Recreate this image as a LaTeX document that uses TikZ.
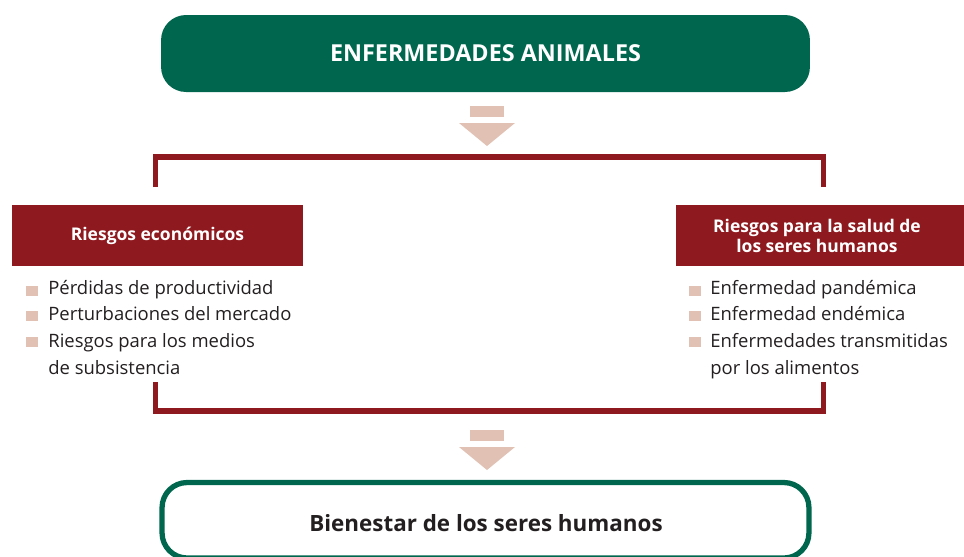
\documentclass[tikz,border=0pt]{standalone}
\usepackage{fontspec}
\setmainfont{Open Sans}
\usetikzlibrary{positioning}

\definecolor{faogreen}{RGB}{0,103,78}
\definecolor{faored}{RGB}{142,25,31}
\definecolor{faopink}{RGB}{225,193,180}
\definecolor{faotext}{RGB}{35,31,32}

\begin{document}
\begin{tikzpicture}[x=0.02cm, y=-0.02cm,
    greenbox/.style={rectangle, rounded corners=0.5cm, minimum width=12.98cm, minimum height=1.54cm},
    redbox/.style={rectangle, fill=faored, text=white, font=\fontsize{9.95}{11.6}\selectfont\bfseries, align=center},
    item/.style={text=faotext, font=\fontsize{10.5}{12}\selectfont, inner sep=0pt},
    bracket/.style={draw=faored, line width=3pt},
    blockarrow/.style={fill=faopink}]

    \useasboundingbox (0,0) rectangle (964,556);

    % === Enfermedades animales ===
    \node[greenbox, fill=faogreen, text=white, font=\fontsize{13.3}{15}\selectfont\bfseries] (enf) at (485.5,53.5) {ENFERMEDADES ANIMALES};

    % Freccia 1
    \fill[blockarrow] (470,106) rectangle (504,117);
    \fill[blockarrow] (459,123) -- (515,123) -- (487,146) -- cycle;

    % === bracket superiore ===
    \coordinate (topL) at (155.5,187);
    \coordinate (topM) at (487,157);
    \coordinate (topR) at (823.5,187);
    \draw[bracket] (topL) |- (topM) -| (topR);

    % === Riesgos ===
    \begin{scope}
        \clip (0,0) rectangle (964,556);
        \node[redbox, minimum width=5.82cm, minimum height=1.22cm] (eco) at (157.5,235.5) {Riesgos económicos};
        \node[redbox, minimum width=6cm, minimum height=1.22cm, anchor=west] (salud) at (676,235.5) {};
    \end{scope}
    \node[redbox, fill=none, inner sep=0pt] (saludtxt) at (817,236) {Riesgos para la salud de\\los seres humanos};

    % elenco sinistra
    \foreach \y/\t [count=\i] in {294/Pérdidas de productividad, 320.7/Perturbaciones del mercado, 347.4/Riesgos para los medios, 374.1/de subsistencia}
        \node[item, anchor=base west] (ecoitem\i) at (48,\y) {\t};
    % elenco destra
    \foreach \y/\t [count=\i] in {294/Enfermedad pandémica, 320.7/Enfermedad endémica, 347.4/Enfermedades transmitidas, 374.1/por los alimentos}
        \node[item, anchor=base west] (saluditem\i) at (710,\y) {\t};

    % quadratini
    \foreach \y in {296,321,347} {
        \fill[faopink] (26,\y) rectangle (37.5,\y-10.5);
        \fill[faopink] (689,\y) rectangle (700.5,\y-10.5);
    }

    % === bracket inferiore ===
    \coordinate (botL) at (155.5,382);
    \coordinate (botM) at (487,411);
    \coordinate (botR) at (823.5,382);
    \draw[bracket] (botL) |- (botM) -| (botR);

    % Freccia 2
    \fill[blockarrow] (470,430) rectangle (504,441);
    \fill[blockarrow] (459,447) -- (515,447) -- (487,470) -- cycle;

    % === Bienestar ===
    \begin{scope}
        \clip (0,0) rectangle (964,556);
        \node[greenbox, draw=faogreen, line width=3pt, minimum width=12.94cm, minimum height=1.51cm] (bien) at (485.5,520.25) {};
    \end{scope}
    \node[text=faotext, font=\fontsize{12.75}{15}\selectfont\bfseries] (bientxt) at (486,523) {Bienestar de los seres humanos};

\end{tikzpicture}
\end{document}
